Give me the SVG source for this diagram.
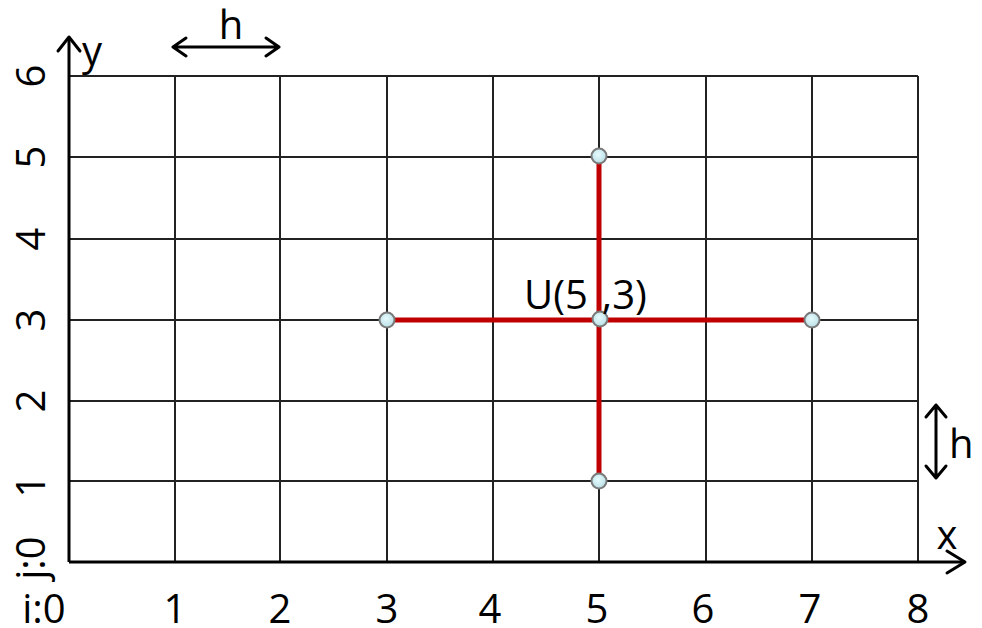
<svg xmlns="http://www.w3.org/2000/svg" width="982" height="628" viewBox="0 0 982 628">
<defs>
<radialGradient id="dotFill" cx="0.45" cy="0.4" r="0.6">
<stop offset="0" stop-color="#e6fbfd"/>
<stop offset="1" stop-color="#b9dfe6"/>
</radialGradient>
</defs>
<style>
.grid{stroke:#222;stroke-width:2;fill:none}
.axis{stroke:#000;stroke-width:3;fill:none}
.arr{stroke:#000;stroke-width:3;fill:none;stroke-linecap:round;stroke-linejoin:round}
.red{stroke:#c00000;stroke-width:5;fill:none}
.dot{fill:url(#dotFill);stroke:#7a7a7a;stroke-width:2}
.lbl{font-family:"Open Sans","Liberation Sans",sans-serif;font-size:40px;fill:#000}
</style>
<rect width="982" height="628" fill="#fff"/>
<g id="grid">
<path class="grid" d="M175 76V562M280 76V562M387 76V562M493 76V562M599 76V562M706 76V562M812 76V562M918 76V562"/>
<path class="grid" d="M69 76H918M69 157H918M69 239H918M69 320H918M69 401H918M69 481H918"/>
</g>
<g id="axes">
<path class="axis" d="M69 562V37"/>
<path class="arr" d="M58 51L69 37L80 51"/>
<path class="axis" d="M69 562H965"/>
<path class="arr" d="M947 551L965 562L947 573"/>
</g>
<g id="stencil">
<path class="red" d="M387 320H812M599 157V481"/>
</g>
<g id="nodes">
<circle id="n53" class="dot" cx="600" cy="319" r="7.5"/>
<circle id="n33" class="dot" cx="387" cy="320" r="7.5"/>
<circle id="n73" class="dot" cx="812" cy="320" r="7.5"/>
<circle id="n55" class="dot" cx="599" cy="156" r="7.5"/>
<circle id="n51" class="dot" cx="599" cy="481" r="7.5"/>
</g>
<g id="h-arrows">
<path class="arr" d="M173 47H279M186 38L173 47L186 56M266 38L279 47L266 56"/>
<path class="arr" d="M936 405V478M926 417L936 405L946 417M926 466L936 478L946 466"/>
</g>
<g id="labels">
<text class="lbl" x="231" y="39" text-anchor="middle">h</text>
<text class="lbl" x="82" y="65">y</text>
<text class="lbl" x="949" y="458">h</text>
<text class="lbl" x="947" y="549" text-anchor="middle">x</text>
<text class="lbl" x="524" y="309">U(5<tspan dx="14">,3)</tspan></text>
<g text-anchor="middle">
<text class="lbl" x="44" y="623">i:0</text>
<text class="lbl" x="175" y="623">1</text>
<text class="lbl" x="280" y="623">2</text>
<text class="lbl" x="387" y="623">3</text>
<text class="lbl" x="490" y="623">4</text>
<text class="lbl" x="597" y="623">5</text>
<text class="lbl" x="703" y="623">6</text>
<text class="lbl" x="810" y="623">7</text>
<text class="lbl" x="918" y="623">8</text>
<text class="lbl" transform="translate(45 76) rotate(-90)">6</text>
<text class="lbl" transform="translate(45 157) rotate(-90)">5</text>
<text class="lbl" transform="translate(45 239) rotate(-90)">4</text>
<text class="lbl" transform="translate(45 320) rotate(-90)">3</text>
<text class="lbl" transform="translate(45 401) rotate(-90)">2</text>
<text class="lbl" transform="translate(45 486) rotate(-90)">1</text>
<text class="lbl" transform="translate(45 558) rotate(-90)">j:0</text>
</g>
</g>
</svg>
